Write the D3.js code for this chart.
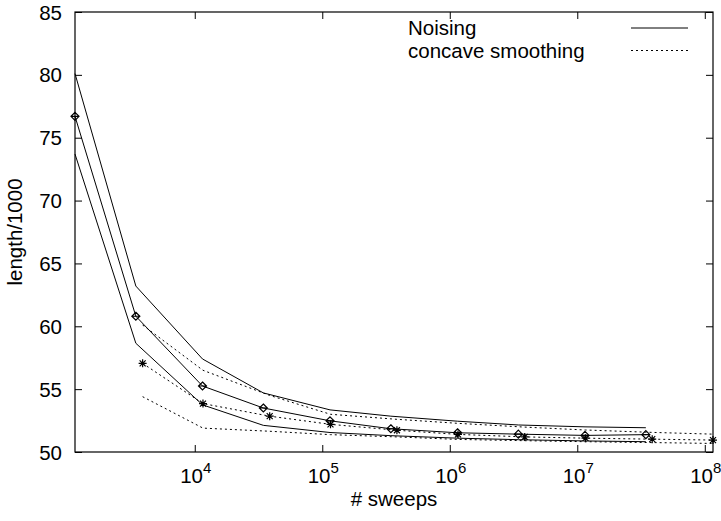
<!DOCTYPE html>
<html>
<head>
  <meta charset="utf-8">
  <title>length vs sweeps</title>
  <script src="https://d3js.org/d3.v7.min.js"></script>
  <style>
    body { margin: 0; background: #fff; }
    text { font-family: "Liberation Sans", Arial, sans-serif; fill: #000; }
  </style>
</head>
<body>
<script>
// data
var noisingSweeps = [1150, 3450, 11500, 34500, 115000, 345000, 1150000, 3450000, 11500000, 34500000];
var noisingMean = [76.7, 60.8, 55.25, 53.5, 52.48, 51.85, 51.53, 51.42, 51.32, 51.38];
var noisingHigh = [80.1, 63.2, 57.4, 54.7, 53.35, 52.85, 52.45, 52.15, 52.0, 51.93];
var noisingLow = [73.7, 58.65, 53.75, 52.12, 51.55, 51.3, 51.1, 50.98, 50.88, 50.82];

var concaveSweeps = [3900, 11600, 38700, 116000, 385000, 1160000, 3870000, 11600000, 38700000, 116000000];
var concaveMean = [57.05, 53.85, 52.85, 52.2, 51.73, 51.4, 51.2, 51.1, 51.02, 50.95];
var concaveHigh = [60.1, 56.5, 54.5, 53.0, 52.6, 52.28, 51.98, 51.75, 51.56, 51.42];
var concaveLow = [54.4, 51.9, 51.65, 51.38, 51.2, 51.0, 50.9, 50.82, 50.75, 50.68];

var xTicks = [1e4, 1e5, 1e6, 1e7, 1e8];
var yTicks = [50, 55, 60, 65, 70, 75, 80, 85];
var legendNames = ["Noising", "concave smoothing"];

var width = 721, height = 521;
var plotL = 75, plotR = 713, plotT = 12, plotB = 452;
var fs = "20.5px";

var svg = d3.select("body").append("svg").attr("width", width).attr("height", height);

var x = d3.scaleLog().domain([1150, 1.16e8]).range([plotL, plotR]);
var y = d3.scaleLinear().domain([50, 85]).range([plotB, plotT]);

// border
svg.append("rect").attr("x", plotL).attr("y", plotT)
  .attr("width", plotR - plotL).attr("height", plotB - plotT)
  .attr("fill", "none").attr("stroke", "#000").attr("stroke-width", 1.2);

// axes with inward ticks, mirrored
function noDomain(g) { g.select(".domain").remove(); }
svg.append("g").attr("transform", "translate(0," + plotB + ")")
  .call(d3.axisBottom(x).tickValues(xTicks).tickSize(-7).tickFormat("")).call(noDomain);
svg.append("g").attr("transform", "translate(0," + plotT + ")")
  .call(d3.axisTop(x).tickValues(xTicks).tickSize(-7).tickFormat("")).call(noDomain);
svg.append("g").attr("transform", "translate(" + plotL + ",0)")
  .call(d3.axisLeft(y).tickValues(yTicks).tickSize(-7).tickFormat("")).call(noDomain);
svg.append("g").attr("transform", "translate(" + plotR + ",0)")
  .call(d3.axisRight(y).tickValues(yTicks).tickSize(-7).tickFormat("")).call(noDomain);
svg.selectAll(".tick line").attr("stroke", "#000").attr("stroke-width", 1);

// tick labels
svg.selectAll(".ylab").data(yTicks).enter().append("text")
  .attr("x", 62).attr("y", function(d) { return y(d) + 7.5; })
  .attr("text-anchor", "end").style("font-size", fs)
  .text(function(d) { return d; });

var xl = svg.selectAll(".xlab").data(xTicks).enter().append("text")
  .attr("x", function(d) { return x(d) + 1; }).attr("y", 483)
  .attr("text-anchor", "middle").style("font-size", fs);
xl.append("tspan").text("10");
xl.append("tspan").attr("dy", -10).style("font-size", "15px")
  .text(function(d) { return Math.round(Math.log10(d)); });

// axis titles
svg.append("text").attr("x", (plotL + plotR) / 2).attr("y", 506)
  .attr("text-anchor", "middle").style("font-size", fs).text("# sweeps");
svg.append("text").attr("transform", "translate(22," + ((plotT + plotB) / 2) + ") rotate(-90)")
  .attr("text-anchor", "middle").style("font-size", fs).text("length/1000");

// curves
var line = d3.line().x(function(d) { return x(d[0]); }).y(function(d) { return y(d[1]); });
function pairs(xs, ys) { return xs.map(function(v, i) { return [v, ys[i]]; }); }

var solid = [noisingHigh, noisingMean, noisingLow];
var dotted = [concaveHigh, concaveMean, concaveLow];

solid.forEach(function(s) {
  svg.append("path").attr("d", line(pairs(noisingSweeps, s)))
    .attr("fill", "none").attr("stroke", "#000").attr("stroke-width", 1);
});
dotted.forEach(function(s) {
  svg.append("path").attr("d", line(pairs(concaveSweeps, s)))
    .attr("fill", "none").attr("stroke", "#000").attr("stroke-width", 1)
    .attr("stroke-dasharray", "2,3");
});

// diamond markers on noising mean
svg.selectAll(".dia").data(pairs(noisingSweeps, noisingMean)).enter().append("path")
  .attr("transform", function(d) { return "translate(" + x(d[0]) + "," + y(d[1]) + ")"; })
  .attr("d", "M0,-4L4,0L0,4L-4,0ZM-4,0L4,0")
  .attr("fill", "none").attr("stroke", "#000").attr("stroke-width", 1.2);

// star markers on concave mean
svg.selectAll(".star").data(pairs(concaveSweeps, concaveMean)).enter().append("path")
  .attr("transform", function(d) { return "translate(" + x(d[0]) + "," + y(d[1]) + ")"; })
  .attr("d", "M-4,0L4,0M0,-4L0,4M-3,-3L3,3M-3,3L3,-3")
  .attr("fill", "none").attr("stroke", "#000").attr("stroke-width", 1.2);

// legend
var legend = svg.append("g");
legendNames.forEach(function(name, i) {
  var ly = 28 + i * 22.5;
  legend.append("text").attr("x", 408).attr("y", ly + 7)
    .style("font-size", fs).text(name);
  legend.append("line").attr("x1", 631).attr("x2", 688).attr("y1", ly).attr("y2", ly)
    .attr("stroke", "#000").attr("stroke-width", 1)
    .attr("stroke-dasharray", i === 0 ? null : "2,3");
});
</script>
</body>
</html>
